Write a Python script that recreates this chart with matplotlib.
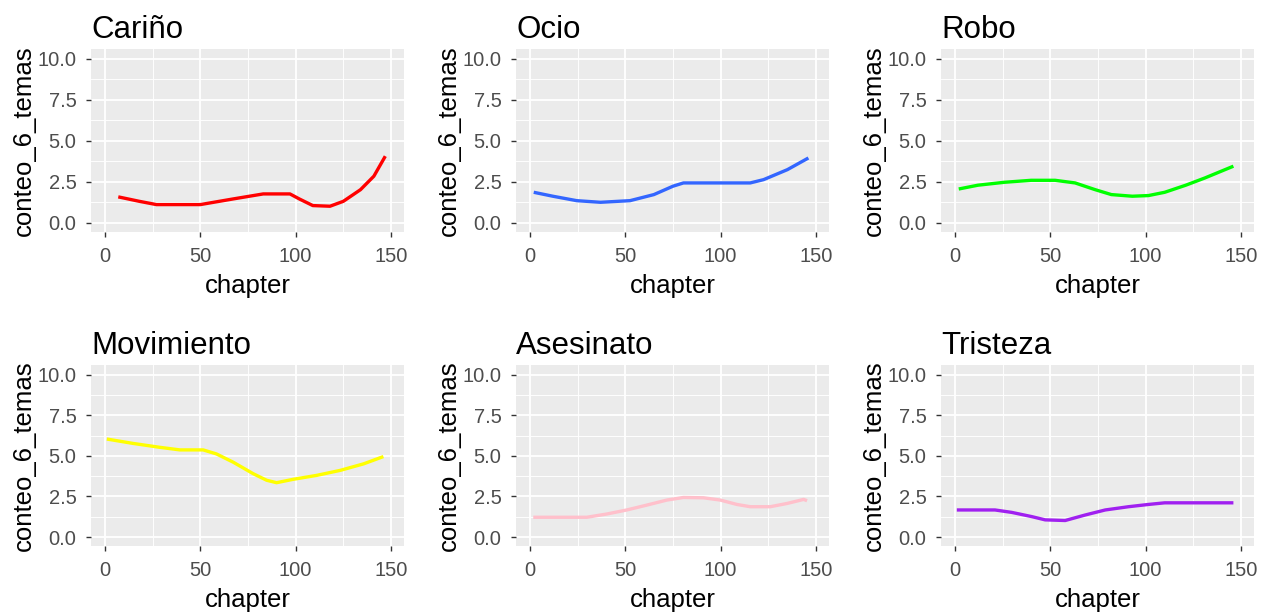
import matplotlib
matplotlib.use("Agg")
import matplotlib.pyplot as plt
import numpy as np

plt.rcParams['font.family'] = ['Liberation Sans', 'DejaVu Sans']

titles = ["Cariño", "Ocio", "Robo", "Movimiento", "Asesinato", "Tristeza"]
colors = ["#FF0000", "#3366FF", "#00FF00", "#FFFF00", "#FFC0CB", "#A020F0"]

carino_x = [7, 18, 27, 50, 67, 83, 97, 102, 109, 118, 125, 134, 141, 147]
carino_y = [1.59, 1.32, 1.12, 1.12, 1.46, 1.77, 1.77, 1.46, 1.06, 1.02, 1.32, 2.03, 2.85, 4.07]

ocio_x = [2, 12, 24.5, 37, 52.5, 65, 75, 80.5, 115.5, 122.5, 135, 146]
ocio_y = [1.87, 1.63, 1.36, 1.26, 1.36, 1.73, 2.24, 2.44, 2.44, 2.64, 3.25, 3.96]

robo_x = [2, 12, 26, 40, 52.5, 63, 73.5, 82, 93, 101.5, 110, 121, 131, 146]
robo_y = [2.07, 2.30, 2.48, 2.60, 2.60, 2.44, 2.03, 1.73, 1.63, 1.67, 1.87, 2.30, 2.74, 3.46]

mov_x = [1, 14.7, 28.7, 39.3, 51.5, 58.5, 67.3, 77.8, 84.8, 90, 98.8, 111, 123.4, 135.6, 146]
mov_y = [6.04, 5.77, 5.53, 5.37, 5.37, 5.12, 4.61, 3.90, 3.50, 3.35, 3.56, 3.80, 4.11, 4.51, 4.96]

ases_x = [1.75, 29.8, 40.3, 50.8, 61.3, 71.8, 80.5, 91, 99.8, 108.5, 115.5, 126, 134.8, 143.5, 145.3]
ases_y = [1.22, 1.22, 1.42, 1.67, 1.97, 2.28, 2.44, 2.42, 2.28, 2.01, 1.87, 1.87, 2.07, 2.32, 2.24]

tris_x = [1, 21, 29.8, 40.3, 47.3, 57.8, 68.3, 78.8, 91, 101.5, 110, 117, 146]
tris_y = [1.67, 1.67, 1.52, 1.26, 1.06, 1.02, 1.36, 1.67, 1.87, 2.01, 2.11, 2.11, 2.11]

series = [(carino_x, carino_y), (ocio_x, ocio_y), (robo_x, robo_y),
          (mov_x, mov_y), (ases_x, ases_y), (tris_x, tris_y)]

W, H = 1272, 615
fig = plt.figure(figsize=(W / 100, H / 100), dpi=100)

col_left = [91, 516, 941]
row_top = [49, 365]
row_h = [183, 181]
aw = 313

for i, (t, c, (xs, ys)) in enumerate(zip(titles, colors, series)):
    r, cidx = divmod(i, 3)
    ah = row_h[r]
    left = col_left[cidx] / W
    bottom = 1 - (row_top[r] + ah) / H
    ax = fig.add_axes([left, bottom, aw / W, ah / H])
    ax.set_facecolor("#EBEBEB")
    ax.set_xlim(-7.3, 156.8)
    ax.set_ylim(-0.55, 10.6)
    ax.set_xticks([0, 50, 100, 150])
    ax.set_yticks([0, 2.5, 5, 7.5, 10])
    ax.set_yticklabels(["0.0", "2.5", "5.0", "7.5", "10.0"])
    ax.set_xticks([25, 75, 125], minor=True)
    ax.set_yticks([1.25, 3.75, 6.25, 8.75], minor=True)
    ax.grid(which="major", color="white", lw=1.3)
    ax.grid(which="minor", color="white", lw=0.65)
    ax.set_axisbelow(True)
    for s in ax.spines.values():
        s.set_visible(False)
    ax.tick_params(which="major", length=3.6, width=1.0, color="#333333",
                   labelcolor="#4D4D4D", labelsize=14.5)
    ax.tick_params(axis="x", which="major", pad=7.5)
    ax.tick_params(axis="y", which="major", pad=6.8)
    ax.tick_params(which="minor", length=0)
    ax.plot(xs, ys, color=c, lw=2.4, solid_capstyle="butt")
    ax.set_title(t, loc="left", fontsize=22.5, pad=8, color="black")
    ax.set_xlabel("chapter", fontsize=18.5, labelpad=5.5, color="black")
    ax.set_ylabel("conteo_6_temas", fontsize=18.5, labelpad=1.5, color="black")

fig.savefig("out.png", dpi=100, facecolor="white")
